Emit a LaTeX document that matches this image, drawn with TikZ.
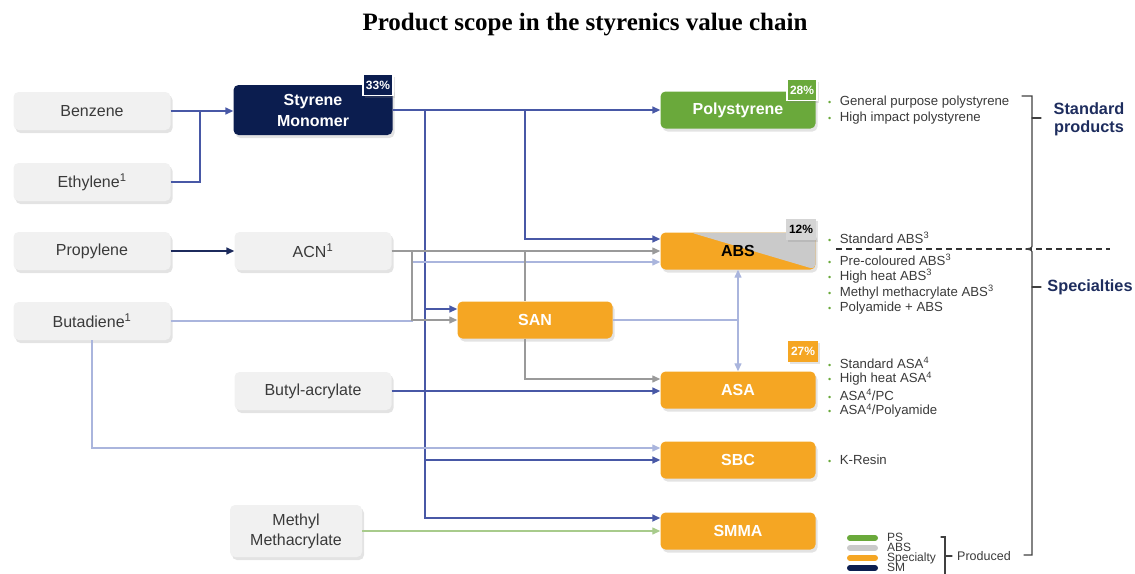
\documentclass[tikz,border=0pt]{standalone}
\usepackage{fontspec}
\setmainfont{Liberation Sans}
\newfontfamily\titlefont{Liberation Serif}
\usetikzlibrary{arrows.meta,shadows,calc}
\definecolor{smnavy}{HTML}{0B1D4F}
\definecolor{psgreen}{HTML}{6AA93B}
\definecolor{specorange}{HTML}{F5A623}
\definecolor{absgray}{HTML}{CACACA}
\definecolor{rawfill}{HTML}{F1F1F1}
\definecolor{lineblue}{HTML}{4858A6}
\definecolor{linenavy}{HTML}{1C2A5C}
\definecolor{linegray}{HTML}{9A9A9A}
\definecolor{lineltblue}{HTML}{AAB5DD}
\definecolor{linegreen}{HTML}{A8CB8C}
\definecolor{headnavy}{HTML}{1E2D5E}
\definecolor{txtgray}{HTML}{3A3A3A}
\newcommand\bul{{\color{psgreen}\fontsize{9}{9}\selectfont\textbullet}\hspace{8.5pt}}

\begin{document}
\begin{tikzpicture}[x=1pt,y=-1pt,
  every node/.style={font=\fontsize{16}{20}\selectfont},
  box/.style={rounded corners=5pt,minimum width=157pt,minimum height=38pt,inner sep=2pt,align=center,
    drop shadow={shadow xshift=2pt,shadow yshift=-3pt,opacity=.22}},
  raw/.style={box,fill=rawfill,text=txtgray},
  prod/.style={box,fill=specorange,text=white,font=\fontsize{16}{20}\selectfont\bfseries,minimum width=155pt,minimum height=37pt},
  badge/.style={draw=white,line width=1.2pt,minimum width=30pt,minimum height=21pt,inner sep=0pt,
    font=\fontsize{12}{12}\selectfont\bfseries,text=white,drop shadow={shadow xshift=1.5pt,shadow yshift=-2pt,opacity=.22}},
  item/.style={anchor=west,inner sep=0pt,text=txtgray,font=\fontsize{13.2}{14}\selectfont},
  head/.style={align=center,text=headnavy,font=\fontsize{16.3}{18}\selectfont\bfseries},
  tip/.style={-{Triangle[length=8pt,width=7pt]}},
  feed/.style={line width=1.6pt,lineblue},
  feedarr/.style={feed,tip},
  grayarr/.style={line width=1.3pt,linegray,tip},
  lightln/.style={line width=1.3pt,lineltblue},
  lightarr/.style={lightln,tip},
  brk/.style={line width=1.2pt,black!75,line cap=round}]
\useasboundingbox (0,0) rectangle (1135,573);
\node[font=\titlefont\bfseries\fontsize{25}{28}\selectfont] (title) at (585,25) {Product scope in the styrenics value chain};

\node[raw] (benzene) at (92,111) {Benzene};
\node[raw] (ethylene) at (92,182) {Ethylene\textsuperscript{1}};
\node[raw] (propylene) at (92,251) {Propylene};
\node[raw] (butadiene) at (92,321) {Butadiene\textsuperscript{1}};
\node[raw] (acn) at (313,251) {ACN\textsuperscript{1}};
\node[raw] (butyl) at (313,391) {Butyl-acrylate};
\node[raw,minimum width=132pt,minimum height=52pt] (mma) at (296,531) {Methyl\\Methacrylate};
\node[box,fill=smnavy,text=white,minimum width=159pt,minimum height=50pt,font=\fontsize{16}{21}\selectfont\bfseries] (sm) at (313,110) {Styrene\\Monomer};

\node[prod,fill=psgreen] (ps) at (738,110) {Polystyrene};
\node[prod,text=black,path picture={\fill[absgray] ($(path picture bounding box.north west)+(30pt,0pt)$) -- (path picture bounding box.north east) -- (path picture bounding box.south east) -- cycle;}] (abs) at (738,251) {ABS};
\node[prod] (san) at (535,320) {SAN};
\node[prod] (asa) at (738,390) {ASA};
\node[prod] (sbc) at (738,460) {SBC};
\node[prod] (smma) at (738,531) {SMMA};

\node[badge,fill=smnavy] (smpct) at (378,85) {33\%};
\node[badge,fill=psgreen] (pspct) at (802,90) {28\%};
\node[badge,fill=absgray!80,draw=none,text=black] (abspct) at (801,229) {12\%};
\node[badge,fill=specorange,draw=none] (asapct) at (803,351) {27\%};

\coordinate (bj) at (200,111);
\coordinate (s1) at (425,110);
\coordinate (s2) at (525,110);
\coordinate (aj) at (412,251);
\coordinate (sj) at (525,251);

\draw[feed] (ethylene.east) -| (bj);
\draw[feedarr] (benzene.east) -- (benzene.east -| sm.west);
\draw[line width=1.6pt,linenavy,tip] (propylene.east) -- (acn.west);
\draw[feedarr] (sm.east) -- (sm.east -| ps.west);
\draw[feedarr] (s2) |- ($(abs.west)+(0,-12)$);
\draw[feedarr] (s1) |- ($(san.west)+(0,-11)$);
\draw[feedarr] (s1) |- (sbc.west);
\draw[feedarr] (s1) |- ($(smma.west)+(0,-13)$);
\draw[feedarr] (butyl.east) -- (butyl.east -| asa.west);

\draw[lightarr] (butadiene.east) -| ($(aj)+(0,11)$) -- ($(abs.west)+(0,11)$);
\draw[lightarr] (butadiene.south) |- ($(sbc.west)+(0,-12)$);
\draw[grayarr] (acn.east) -- (acn.east -| abs.west);
\draw[grayarr] (aj) |- (san.west);
\draw[line width=1.3pt,linegray] (sj) -- (sj |- san.north);
\draw[grayarr] (sj |- san.south) |- ($(asa.west)+(0,-11)$);
\draw[lightln] (san.east) -- (san.east -| abs.south);
\draw[lightln,{Triangle[length=8pt,width=7pt]}-{Triangle[length=8pt,width=7pt]}] (abs.south) -- (asa.north);
\draw[line width=1.3pt,linegreen,tip] (mma.east) -- (mma.east -| smma.west);

\foreach \t [count=\i] in {General purpose polystyrene,High impact polystyrene}
  \node[item] (psl\i) at (828,{86+16*\i}) {\bul\t};
\node[item] (absl0) at (828,238) {\bul Standard ABS\textsuperscript{3}};
\foreach \t [count=\i] in {Pre-coloured ABS\textsuperscript{3},High heat ABS\textsuperscript{3},Methyl methacrylate ABS\textsuperscript{3},Polyamide + ABS}
  \node[item] (absl\i) at (828,{244+16*\i}) {\bul\t};
\foreach \t [count=\i] in {Standard ASA\textsuperscript{4},High heat ASA\textsuperscript{4},ASA\textsuperscript{4}/PC,ASA\textsuperscript{4}/Polyamide}
  \node[item] (asal\i) at (828,{347+16*\i}) {\bul\t};
\node[item] (sbcl1) at (828,460) {\bul K-Resin};

\draw[line width=1.2pt,black!80,dash pattern=on 6pt off 4pt] (836,249) -- (1110,249);
\draw[brk] (1022,96) -- (1032,96) -- (1032,244) .. controls (1032,248) .. (1026,249);
\draw[brk] (1026,249) .. controls (1032,250) .. (1032,254) -- (1032,555) -- (1024,555);
\draw[brk] (1032,118) -- (1041,118);
\draw[brk] (1032,287) -- (1041,287);
\node[head] (stdprod) at (1089,119) {Standard\\products};
\node[head] (spec) at (1090,287) {Specialties};

\draw[line width=6pt,line cap=round,psgreen] (850,538) -- (875,538);
\draw[line width=6pt,line cap=round,absgray] (850,548) -- (875,548);
\draw[line width=6pt,line cap=round,specorange] (850,558) -- (875,558);
\draw[line width=6pt,line cap=round,smnavy] (850,568) -- (875,568);
\foreach \t/\y [count=\i] in {PS/537,ABS/547,Specialty/558,SM/567}
  \node[item,font=\fontsize{12}{12}\selectfont] (leg\i) at (887,\y) {\t};
\draw[brk] (941,537) -- (945,537) -- (945,580);
\draw[brk] (945,556) -- (952,556);
\node[item,font=\fontsize{12.5}{14}\selectfont] (produced) at (957,556) {Produced};
\end{tikzpicture}
\end{document}
